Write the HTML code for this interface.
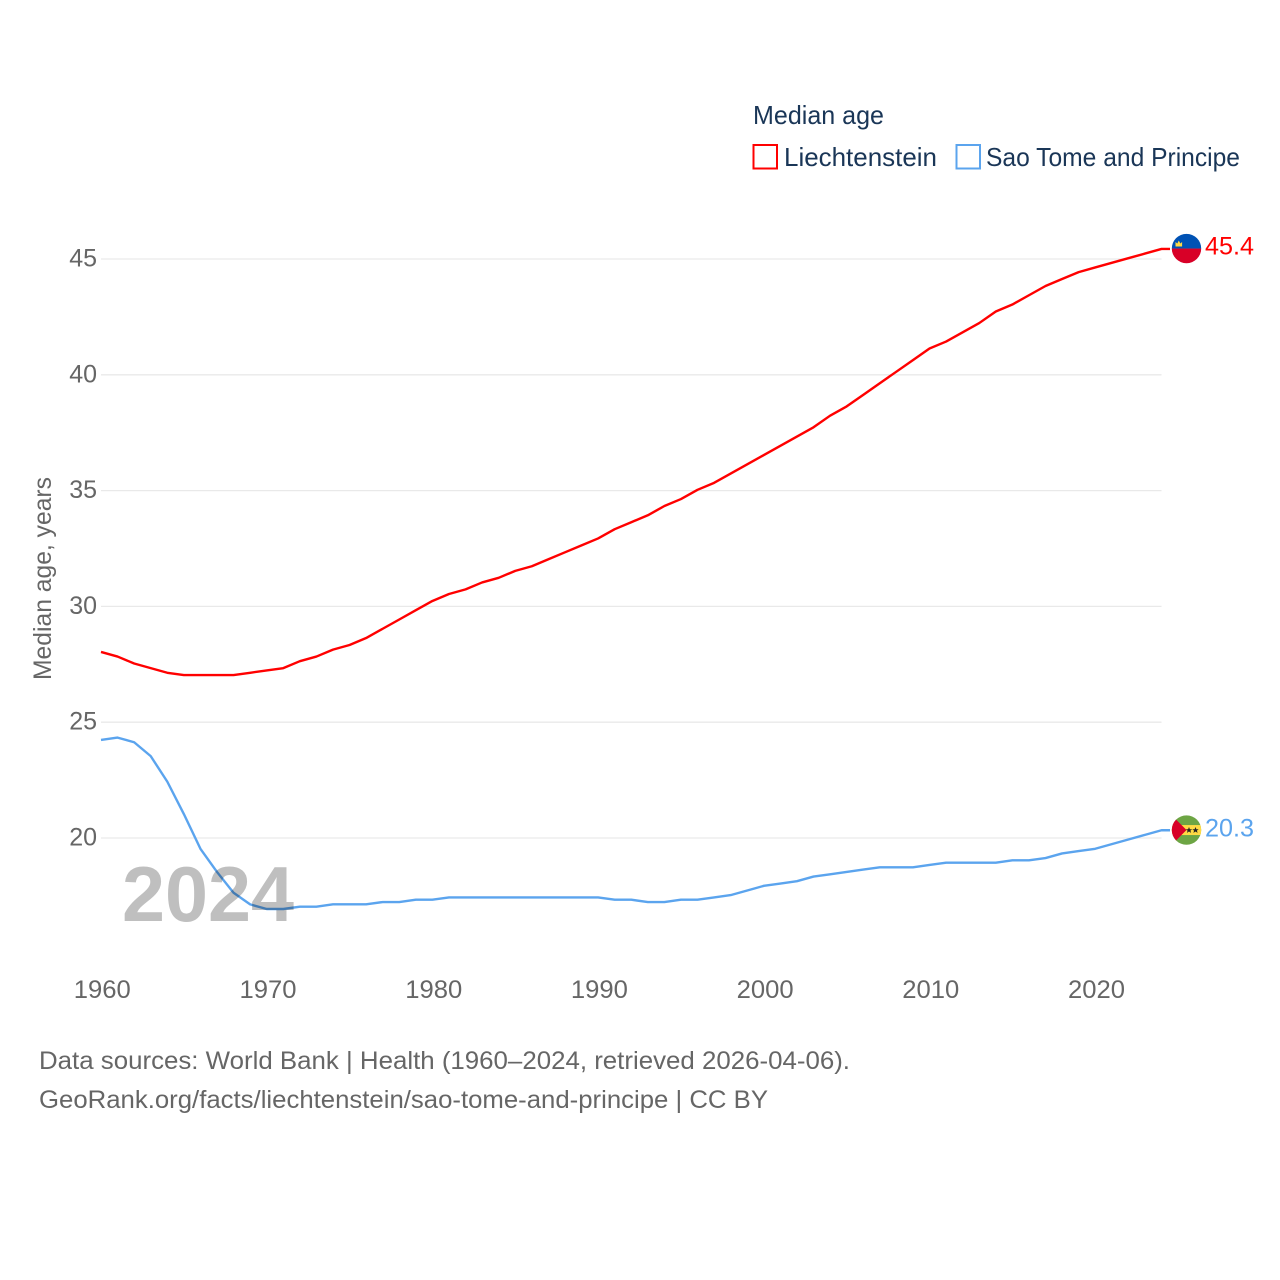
<!DOCTYPE html>
<html lang="en">
<head>
<meta charset="utf-8">
<title>Median age: Liechtenstein and Sao Tome and Principe</title>
<style>
html,body{margin:0;padding:0;background:#fff;}
svg{display:block;}
text{font-family:"Liberation Sans",sans-serif;}
.tick{font-size:25px;fill:#666;}
.foot{font-size:25px;fill:#666;}
.leg{font-size:26px;fill:#1a3657;}
</style>
</head>
<body>
<svg id="chart" xmlns="http://www.w3.org/2000/svg" width="1280" height="1280" viewBox="0 0 1280 1280">
  <rect x="0" y="0" width="1280" height="1280" fill="#fff"/>
  <g id="grid"></g>
  <g id="yticks"></g>
  <g id="xticks"></g>
  <text transform="translate(51,680) rotate(-90)" font-size="25" fill="#666" textLength="203" lengthAdjust="spacingAndGlyphs">Median age, years</text>
  <g id="series"></g>
  <text x="122" y="921" font-size="78" font-weight="700" fill="#bfbfbf" style="mix-blend-mode:multiply" textLength="172" lengthAdjust="spacingAndGlyphs">2024</text>

  <text class="leg" x="753" y="124" textLength="131" lengthAdjust="spacingAndGlyphs">Median age</text>
  <g>
    <rect x="753.5" y="145" width="23.5" height="23.5" fill="#fff" stroke="#f00" stroke-width="2"/>
    <text class="leg" x="784" y="166" textLength="153" lengthAdjust="spacingAndGlyphs">Liechtenstein</text>
  </g>
  <g>
    <rect x="956.5" y="145" width="23.5" height="23.5" fill="#fff" stroke="#5ba4ee" stroke-width="2"/>
    <text class="leg" x="986" y="166" textLength="254" lengthAdjust="spacingAndGlyphs">Sao Tome and Principe</text>
  </g>

  <defs>
    <clipPath id="clipLi"><circle cx="0" cy="0" r="14.7"/></clipPath>
    <clipPath id="clipSt"><circle cx="0" cy="0" r="14.7"/></clipPath>
  </defs>
  <g id="flagLi">
    <g clip-path="url(#clipLi)">
      <rect x="-15" y="-15" width="30" height="15" fill="#0052b4"/>
      <rect x="-15" y="0" width="30" height="15" fill="#d80027"/>
      <path d="M-11,-2 L-11,-6.5 L-9.2,-5 L-7.7,-8 L-6.2,-5 L-4.4,-6.5 L-4.4,-2 Z" fill="#ffda44"/>
    </g>
  </g>
  <g id="flagSt">
    <g clip-path="url(#clipSt)">
      <rect x="-15" y="-15" width="30" height="30" fill="#6da544"/>
      <rect x="-15" y="-5" width="30" height="10" fill="#ffda44"/>
      <path d="M-15,-15 L0,0 L-15,15 Z" fill="#d80027"/>
      <polygon points="2.5,-3 3.4,-0.8 5.7,-0.8 3.9,0.6 4.6,2.8 2.5,1.5 0.4,2.8 1.1,0.6 -0.7,-0.8 1.6,-0.8" fill="#222"/>
      <polygon points="9,-3 9.9,-0.8 12.2,-0.8 10.4,0.6 11.1,2.8 9,1.5 6.9,2.8 7.6,0.6 5.8,-0.8 8.1,-0.8" fill="#222"/>
    </g>
  </g>
  <text id="valLi" x="1205" font-size="25" fill="#f00" textLength="49" lengthAdjust="spacingAndGlyphs"></text>
  <text id="valSt" x="1205" font-size="25" fill="#5ba4ee" textLength="49" lengthAdjust="spacingAndGlyphs"></text>

  <text class="foot" x="39" y="1069" textLength="811" lengthAdjust="spacingAndGlyphs">Data sources: World Bank | Health (1960–2024, retrieved 2026-04-06).</text>
  <text class="foot" x="39" y="1108" textLength="729" lengthAdjust="spacingAndGlyphs">GeoRank.org/facts/liechtenstein/sao-tome-and-principe | CC BY</text>
</svg>
<script>
const startYear = 1960;
const yTickValues = [20, 25, 30, 35, 40, 45];
const xTickValues = [1960, 1970, 1980, 1990, 2000, 2010, 2020];
const liechtenstein = [28.0,27.8,27.5,27.3,27.1,27.0,27.0,27.0,27.0,27.1,27.2,27.3,27.6,27.8,28.1,28.3,28.6,29.0,29.4,29.8,30.2,30.5,30.7,31.0,31.2,31.5,31.7,32.0,32.3,32.6,32.9,33.3,33.6,33.9,34.3,34.6,35.0,35.3,35.7,36.1,36.5,36.9,37.3,37.7,38.2,38.6,39.1,39.6,40.1,40.6,41.1,41.4,41.8,42.2,42.7,43.0,43.4,43.8,44.1,44.4,44.6,44.8,45.0,45.2,45.4];
const saoTome = [24.2,24.3,24.1,23.5,22.4,21.0,19.5,18.5,17.6,17.1,16.9,16.9,17.0,17.0,17.1,17.1,17.1,17.2,17.2,17.3,17.3,17.4,17.4,17.4,17.4,17.4,17.4,17.4,17.4,17.4,17.4,17.3,17.3,17.2,17.2,17.3,17.3,17.4,17.5,17.7,17.9,18.0,18.1,18.3,18.4,18.5,18.6,18.7,18.7,18.7,18.8,18.9,18.9,18.9,18.9,19.0,19.0,19.1,19.3,19.4,19.5,19.7,19.9,20.1,20.3];

const NS = 'http://www.w3.org/2000/svg';
function xScale(year){ return 101 + (year - 1960) * 16.5703; }
function yScale(v){ return 838 - (v - 20) * 23.16; }
const markOffset = -0.8;

const grid = document.getElementById('grid');
const yticks = document.getElementById('yticks');
const xticks = document.getElementById('xticks');
const seriesGroup = document.getElementById('series');

yTickValues.forEach(function(v){
  const line = document.createElementNS(NS, 'line');
  
  
  line.setAttribute('x1', 101);
  line.setAttribute('x2', 1161.5);
  line.setAttribute('y1', yScale(v));
  line.setAttribute('y2', yScale(v));
  line.setAttribute('stroke', '#e9e9e9');
  line.setAttribute('stroke-width', 1.3);
  grid.appendChild(line);

  const t = document.createElementNS(NS, 'text');
  
  
  t.setAttribute('class', 'tick');
  t.setAttribute('x', 97);
  t.setAttribute('y', yScale(v) + 7.5);
  t.setAttribute('text-anchor', 'end');
  t.textContent = String(v);
  yticks.appendChild(t);
});

xTickValues.forEach(function(year){
  const t = document.createElementNS(NS, 'text');
  
  
  t.setAttribute('class', 'tick');
  t.setAttribute('x', xScale(year) + 1.3);
  t.setAttribute('y', 998);
  t.setAttribute('text-anchor', 'middle');
  t.setAttribute('textLength', 57);
  t.setAttribute('lengthAdjust', 'spacingAndGlyphs');
  t.textContent = String(year);
  xticks.appendChild(t);
});

function linePoints(values){
  const pts = values.map(function(v, i){
    return xScale(startYear + i).toFixed(2) + ',' + (yScale(v) + markOffset).toFixed(2);
  });
  pts.push('1170,' + (yScale(values[values.length - 1]) + markOffset).toFixed(2));
  return pts.join(' ');
}

const liLine = document.createElementNS(NS, 'polyline');


liLine.setAttribute('points', linePoints(liechtenstein));
liLine.setAttribute('fill', 'none');
liLine.setAttribute('stroke', '#f00');
liLine.setAttribute('stroke-width', 2.4);
liLine.setAttribute('stroke-linejoin', 'round');
seriesGroup.appendChild(liLine);

const stLine = document.createElementNS(NS, 'polyline');


stLine.setAttribute('points', linePoints(saoTome));
stLine.setAttribute('fill', 'none');
stLine.setAttribute('stroke', '#5ba4ee');
stLine.setAttribute('stroke-width', 2.4);
stLine.setAttribute('stroke-linejoin', 'round');
seriesGroup.appendChild(stLine);

const lastLi = liechtenstein[liechtenstein.length - 1];
const lastSt = saoTome[saoTome.length - 1];
document.getElementById('flagLi').setAttribute('transform', 'translate(1186.5,' + (yScale(lastLi) - 1.2) + ')');
document.getElementById('flagSt').setAttribute('transform', 'translate(1186.5,' + (yScale(lastSt) - 1) + ')');
const valLi = document.getElementById('valLi');
valLi.setAttribute('y', yScale(lastLi) + 5);
valLi.textContent = lastLi.toFixed(1);
const valSt = document.getElementById('valSt');
valSt.setAttribute('y', yScale(lastSt) + 5.5);
valSt.textContent = lastSt.toFixed(1);
</script>
</body>
</html>
